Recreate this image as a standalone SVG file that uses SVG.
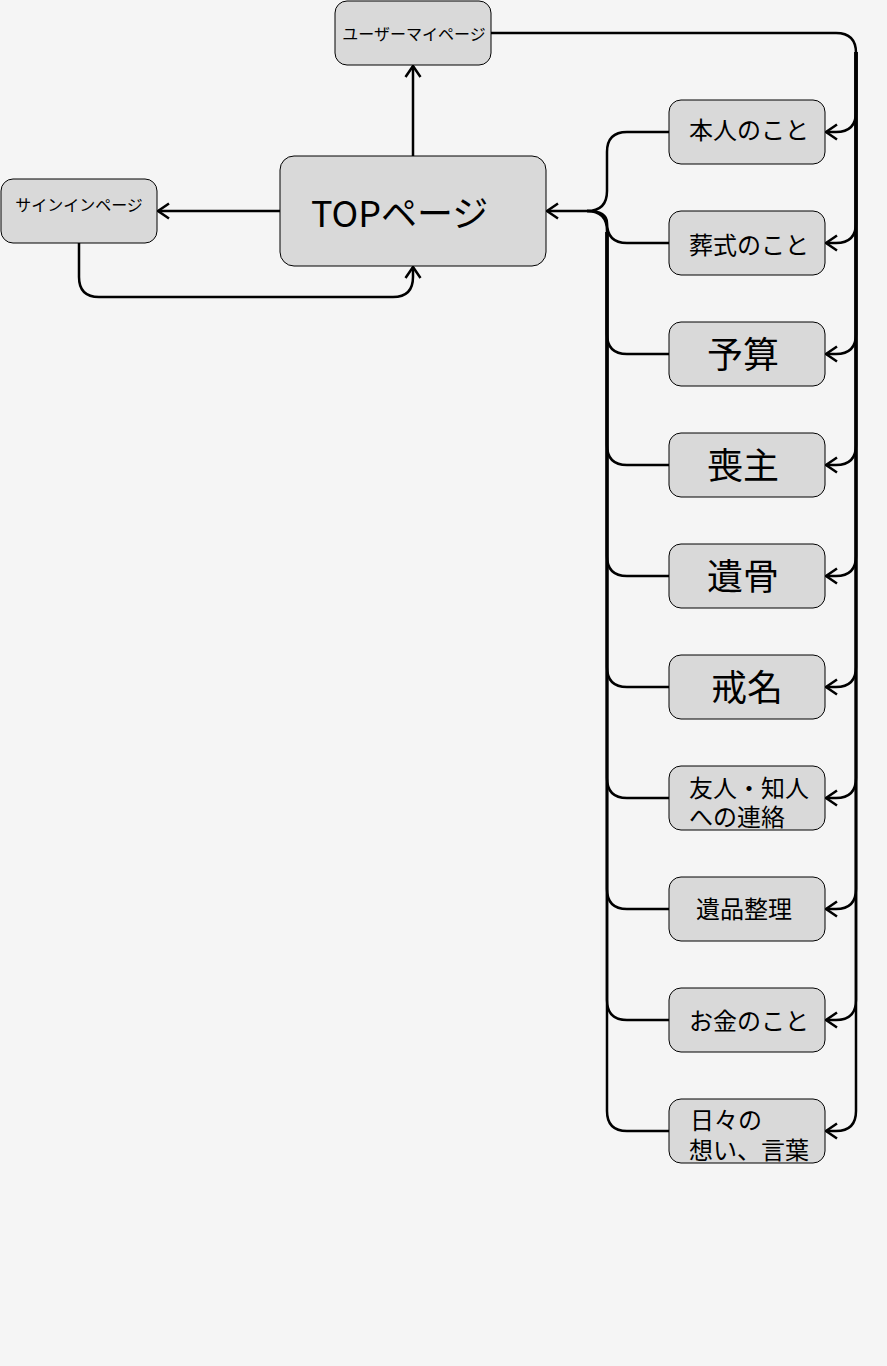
<svg xmlns="http://www.w3.org/2000/svg" width="887" height="1366" viewBox="0 0 887 1366">
<style>
.node{fill:#d9d9d9;stroke:#000;stroke-width:1}
.edge{fill:none;stroke:#000;stroke-width:2.5;stroke-linejoin:round}
text{font-family:"Noto Sans CJK JP","Noto Sans",sans-serif;fill:#000;dominant-baseline:central}
.s{font-size:16px}
.m{font-size:24px}
.l{font-size:36px}
</style>
<defs>
<marker id="ar" markerUnits="userSpaceOnUse" orient="auto" refX="0" refY="0" markerWidth="20" markerHeight="20" viewBox="-12 -10 14 20" overflow="visible">
<path d="M-11,-7.5 L0,0 L-11,7.5" fill="none" stroke="#000" stroke-width="2.5"/>
</marker>
</defs>
<rect width="887" height="1366" fill="#f5f5f5"/>
<g id="connectors">
<path class="edge" d="M413,156 L413,66" marker-end="url(#ar)"/>
<path class="edge" d="M280,211 L158,211" marker-end="url(#ar)"/>
<path class="edge" d="M79,243 L79,277 Q79,297 99,297 L393,297 Q413,297 413,277 L413,267" marker-end="url(#ar)"/>
<path class="edge" d="M491,33 L836,33 Q856,33 856,53 L856,112 Q856,132 836,132 L826,132" marker-end="url(#ar)"/>
<path class="edge" d="M856,52 L856,223 Q856,243 836,243 L826,243" marker-end="url(#ar)"/>
<path class="edge" d="M856,52 L856,334 Q856,354 836,354 L826,354" marker-end="url(#ar)"/>
<path class="edge" d="M856,52 L856,445 Q856,465 836,465 L826,465" marker-end="url(#ar)"/>
<path class="edge" d="M856,52 L856,556 Q856,576 836,576 L826,576" marker-end="url(#ar)"/>
<path class="edge" d="M856,52 L856,667 Q856,687 836,687 L826,687" marker-end="url(#ar)"/>
<path class="edge" d="M856,52 L856,778 Q856,798 836,798 L826,798" marker-end="url(#ar)"/>
<path class="edge" d="M856,52 L856,889 Q856,909 836,909 L826,909" marker-end="url(#ar)"/>
<path class="edge" d="M856,52 L856,1000 Q856,1020 836,1020 L826,1020" marker-end="url(#ar)"/>
<path class="edge" d="M856,52 L856,1111 Q856,1131 836,1131 L826,1131" marker-end="url(#ar)"/>
<path class="edge" d="M669,132 L627,132 Q607,132 607,152 L607,191 Q607,211 587,211 L547,211" marker-end="url(#ar)"/>
<path class="edge" d="M669,243 L627,243 Q607,243 607,223 Q607,211 587,211"/>
<path class="edge" d="M669,354 L627,354 Q607,354 607,334 L607,231 Q607,211 587,211"/>
<path class="edge" d="M669,465 L627,465 Q607,465 607,445 L607,232"/>
<path class="edge" d="M669,576 L627,576 Q607,576 607,556 L607,232"/>
<path class="edge" d="M669,687 L627,687 Q607,687 607,667 L607,232"/>
<path class="edge" d="M669,798 L627,798 Q607,798 607,778 L607,232"/>
<path class="edge" d="M669,909 L627,909 Q607,909 607,889 L607,232"/>
<path class="edge" d="M669,1020 L627,1020 Q607,1020 607,1000 L607,232"/>
<path class="edge" d="M669,1131 L627,1131 Q607,1131 607,1111 L607,232"/>
</g>
<g id="user-mypage"><rect class="node" x="335" y="1" width="156" height="64" rx="12"/><text class="s" x="414" y="33" text-anchor="middle">ユーザーマイページ</text></g>
<g id="signin"><rect class="node" x="1" y="179" width="156" height="64" rx="12"/><text class="s" x="79" y="204" text-anchor="middle">サインインページ</text></g>
<g id="top"><rect class="node" x="280" y="156" width="266" height="110" rx="14"/><text class="l" x="311" y="211">TOPページ</text></g>
<g id="n1"><rect class="node" x="669" y="100" width="156" height="64" rx="12"/><text class="m" x="749" y="128" text-anchor="middle">本人のこと</text></g>
<g id="n2"><rect class="node" x="669" y="211" width="156" height="64" rx="12"/><text class="m" x="749" y="243" text-anchor="middle">葬式のこと</text></g>
<g id="n3"><rect class="node" x="669" y="322" width="156" height="64" rx="12"/><text class="l" x="743" y="352" text-anchor="middle">予算</text></g>
<g id="n4"><rect class="node" x="669" y="433" width="156" height="64" rx="12"/><text class="l" x="743" y="463" text-anchor="middle">喪主</text></g>
<g id="n5"><rect class="node" x="669" y="544" width="156" height="64" rx="12"/><text class="l" x="743" y="574" text-anchor="middle">遺骨</text></g>
<g id="n6"><rect class="node" x="669" y="655" width="156" height="64" rx="12"/><text class="l" x="747" y="685" text-anchor="middle">戒名</text></g>
<g id="n7"><rect class="node" x="669" y="766" width="156" height="64" rx="12"/><text class="m"><tspan x="689" y="786">友人・知人</tspan><tspan x="689" y="815">への連絡</tspan></text></g>
<g id="n8"><rect class="node" x="669" y="877" width="156" height="64" rx="12"/><text class="m" x="744" y="907" text-anchor="middle">遺品整理</text></g>
<g id="n9"><rect class="node" x="669" y="988" width="156" height="64" rx="12"/><text class="m" x="749" y="1019" text-anchor="middle">お金のこと</text></g>
<g id="n10"><rect class="node" x="669" y="1099" width="156" height="64" rx="12"/><text class="m"><tspan x="690" y="1118">日々の</tspan><tspan x="689" y="1148">想い、言葉</tspan></text></g>
</svg>
